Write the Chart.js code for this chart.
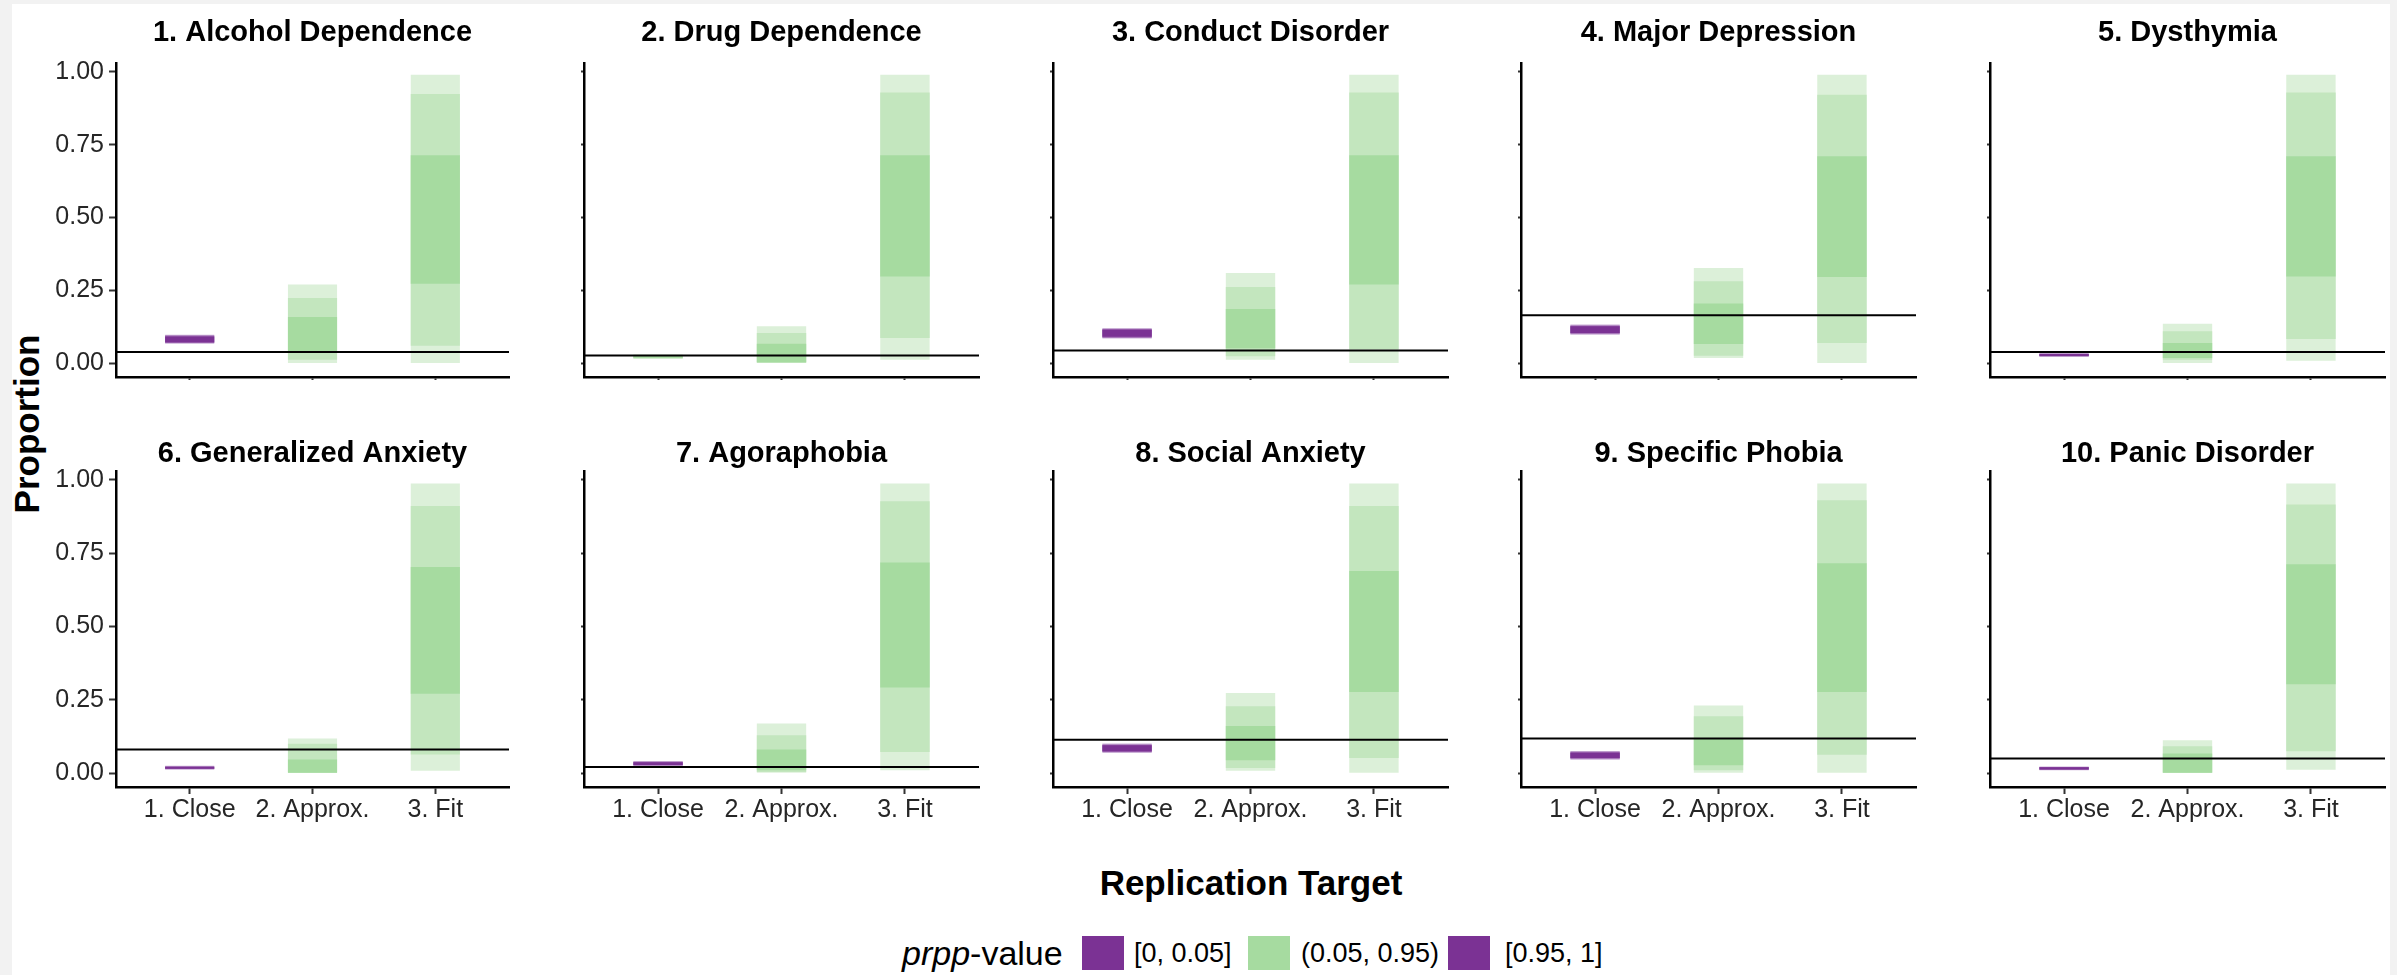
<!DOCTYPE html>
<html>
<head>
<meta charset="utf-8">
<script src="https://cdn.jsdelivr.net/npm/chart.js@4.4.1/dist/chart.umd.min.js"></script>
<style>
  html, body { margin: 0; padding: 0; background: #f2f2f2; }
  body { width: 2397px; height: 975px; position: relative; overflow: hidden; font-family: "Liberation Sans", Arial, sans-serif; }
  #sheet { position: absolute; left: 12px; top: 4px; width: 2378px; height: 971px; background: #ffffff; }
  canvas.panel { position: absolute; }
  .axis-title { position: absolute; font-weight: bold; font-size: 35px; line-height: 1; color: #000; white-space: nowrap; transform: translate(-50%, -50%); }
  #ytitle { transform: translate(-50%, -50%) rotate(-90deg); }
  #legend { position: absolute; left: 0; top: 932px; width: 2397px; height: 42px; }
  #legend > * { position: absolute; top: 0; height: 42px; line-height: 42px; white-space: nowrap; color: #000; }
  #legend .ltitle { font-size: 34px; }
  #legend .llabel { font-size: 27px; }
  #legend .lkey { top: 4px; width: 42px; height: 34px; }
</style>
</head>
<body>
<div id="sheet"></div>
<div id="ytitle" class="axis-title" style="left:26px; top:424px;">Proportion</div>
<div id="xtitle" class="axis-title" style="left:1251px; top:882px;">Replication Target</div>
<div id="legend"></div>

<script>
// ---- data -------------------------------------------------------------
const panelTitles = [
  '1. Alcohol Dependence', '2. Drug Dependence', '3. Conduct Disorder',
  '4. Major Depression', '5. Dysthymia', '6. Generalized Anxiety',
  '7. Agoraphobia', '8. Social Anxiety', '9. Specific Phobia', '10. Panic Disorder'
];
const targets = ['1. Close', '2. Approx.', '3. Fit'];
const yTickValues = [0, 0.25, 0.5, 0.75, 1];

// observed proportion in the replication sample (horizontal reference line)
const observed = [0.039, 0.027, 0.044, 0.165, 0.039, 0.081, 0.021, 0.114, 0.118, 0.050];

// prpp class of the close-replication interval: 'tail' = [0,0.05] or [0.95,1]
const closePrpp = ['tail', 'middle', 'tail', 'tail', 'tail', 'tail', 'tail', 'tail', 'tail', 'tail'];

// posterior predictive intervals [low, high]: outer, middle and inner bands
const closeOuter = [[0.067,0.098],[0.015,0.030],[0.085,0.121],[0.098,0.133],[0.022,0.035],[0.012,0.025],[0.023,0.042],[0.069,0.101],[0.046,0.076],[0.010,0.023]];
const closeMid   = [[0.070,0.095],[0.017,0.028],[0.088,0.118],[0.101,0.130],[0.024,0.033],[0.014,0.023],[0.026,0.039],[0.072,0.098],[0.049,0.073],[0.012,0.021]];
const closeInner = [[0.072,0.092],[0.019,0.026],[0.091,0.115],[0.104,0.127],[0.025,0.032],[0.015,0.022],[0.028,0.037],[0.075,0.095],[0.052,0.070],[0.013,0.020]];

const approxOuter = [[0.001,0.270],[0.000,0.127],[0.012,0.310],[0.018,0.327],[0.001,0.136],[0.000,0.118],[0.000,0.169],[0.008,0.273],[0.000,0.231],[0.000,0.112]];
const approxMid   = [[0.012,0.224],[0.003,0.104],[0.024,0.262],[0.026,0.281],[0.012,0.110],[0.000,0.100],[0.004,0.129],[0.018,0.228],[0.010,0.194],[0.000,0.092]];
const approxInner = [[0.035,0.159],[0.003,0.067],[0.052,0.186],[0.066,0.205],[0.018,0.070],[0.000,0.047],[0.010,0.081],[0.044,0.161],[0.027,0.118],[0.000,0.067]];

const fitOuter = [[0.001,0.990],[0.012,0.990],[0.001,0.990],[0.001,0.990],[0.009,0.990],[0.008,0.987],[0.010,0.987],[0.000,0.987],[0.000,0.987],[0.012,0.987]];
const fitMid   = [[0.060,0.924],[0.087,0.929],[0.049,0.929],[0.070,0.921],[0.083,0.929],[0.064,0.911],[0.072,0.927],[0.052,0.911],[0.063,0.930],[0.075,0.916]];
const fitInner = [[0.273,0.714],[0.298,0.714],[0.270,0.714],[0.296,0.710],[0.298,0.710],[0.271,0.703],[0.292,0.718],[0.277,0.689],[0.277,0.716],[0.303,0.712]];

const legendLabels = ['[0, 0.05]', '(0.05, 0.95)', '[0.95, 1]'];

// ---- styling ----------------------------------------------------------
const FONT = '"Liberation Sans", Arial, sans-serif';
const TICK_COLOR = '#262626';
const shades = {
  tail:   { inner: '#7b3294', mid: '#9d66b1', outer: '#cbb0d7' },
  middle: { inner: '#a6dba0', mid: '#c3e6be', outer: '#dcf0d9' }
};

// panel geometry (page pixels)
const colLeft  = [116, 584, 1053, 1521, 1990];
const colWidth = [393, 395, 395, 395, 395];
const rowTop    = [63, 471];
const rowHeight = [314, 316];
const titleGap  = [22, 9];
const AXIS_W = 106, TOP_PAD = 62, AXIS_H = 50, RIGHT_PAD = 6;

const panelTitlePlugin = {
  id: 'panelTitle',
  afterDraw(chart, args, opts) {
    const { ctx, chartArea } = chart;
    ctx.save();
    ctx.font = 'bold 29px ' + FONT;
    ctx.fillStyle = '#000';
    ctx.textAlign = 'center';
    ctx.textBaseline = 'alphabetic';
    ctx.fillText(opts.text, (chartArea.left + chartArea.right) / 2, chartArea.top - opts.gap);
    ctx.restore();
  }
};

function bandSet(i) {
  return [
    { outer: closeOuter[i],  mid: closeMid[i],  inner: closeInner[i],  tone: closePrpp[i] },
    { outer: approxOuter[i], mid: approxMid[i], inner: approxInner[i], tone: 'middle' },
    { outer: fitOuter[i],    mid: fitMid[i],    inner: fitInner[i],    tone: 'middle' }
  ];
}

function makePanel(i) {
  const row = Math.floor(i / 5), col = i % 5;
  const canvas = document.createElement('canvas');
  canvas.className = 'panel';
  const w = AXIS_W + colWidth[col] + RIGHT_PAD;
  const h = TOP_PAD + rowHeight[row] + AXIS_H;
  canvas.width = w; canvas.height = h;
  canvas.style.left = (colLeft[col] - AXIS_W) + 'px';
  canvas.style.top = (rowTop[row] - TOP_PAD) + 'px';
  canvas.style.width = w + 'px'; canvas.style.height = h + 'px';
  document.body.appendChild(canvas);

  const bands = bandSet(i);
  const layers = ['inner', 'mid', 'outer'];
  const datasets = layers.map((layer, k) => ({
    type: 'bar',
    label: layer,
    order: k,
    grouped: false,
    barPercentage: 0.4,
    categoryPercentage: 1,
    borderWidth: 0,
    borderSkipped: false,
    data: bands.map((b, j) => ({ x: j + 1, y: b[layer] })),
    backgroundColor: bands.map(b => shades[b.tone][layer])
  }));
  datasets.push({
    type: 'line',
    label: 'observed',
    order: -1,
    data: [{ x: 0.4, y: observed[i] }, { x: 3.6, y: observed[i] }],
    borderColor: '#000',
    borderWidth: 2,
    pointRadius: 0,
    fill: false
  });

  new Chart(canvas, {
    type: 'bar',
    data: { datasets },
    plugins: [panelTitlePlugin],
    options: {
      responsive: false,
      animation: false,
      devicePixelRatio: 1,
      layout: { padding: { top: TOP_PAD, right: RIGHT_PAD, left: 0, bottom: 0 } },
      plugins: {
        legend: { display: false },
        tooltip: { enabled: false },
        panelTitle: { text: panelTitles[i], gap: titleGap[row] }
      },
      scales: {
        x: {
          type: 'linear',
          min: 0.4, max: 3.6,
          offset: false,
          afterFit: s => { s.height = AXIS_H; },
          afterBuildTicks: s => { s.ticks = targets.map((t, j) => ({ value: j + 1 })); },
          border: { display: true, color: '#000', width: 2.5 },
          grid: { display: true, offset: false, drawOnChartArea: false, drawTicks: true,
                  tickLength: row === 1 ? 7 : 3, tickColor: '#333', tickWidth: 2 },
          ticks: {
            autoSkip: false, maxRotation: 0, padding: 1,
            color: TICK_COLOR, font: { family: FONT, size: 25 },
            callback: v => (row === 1 ? targets[Math.round(v) - 1] : '')
          }
        },
        y: {
          type: 'linear',
          min: -0.047, max: 1.03,
          afterFit: s => { s.width = AXIS_W; },
          afterBuildTicks: s => { s.ticks = yTickValues.map(v => ({ value: v })); },
          border: { display: true, color: '#000', width: 2.5 },
          grid: { display: true, drawOnChartArea: false, drawTicks: true,
                  tickLength: col === 0 ? 7 : 3, tickColor: '#333', tickWidth: 2 },
          ticks: {
            padding: 5, color: TICK_COLOR, font: { family: FONT, size: 25 },
            callback: v => (col === 0 ? v.toFixed(2) : '')
          }
        }
      }
    }
  });
}

for (let i = 0; i < panelTitles.length; i++) makePanel(i);

// ---- shared legend ------------------------------------------------------
(function buildLegend() {
  const legend = document.getElementById('legend');
  const title = document.createElement('span');
  title.className = 'ltitle';
  title.style.left = '902px';
  title.innerHTML = '<i>prpp</i>-value';
  legend.appendChild(title);
  const keyX = [1082, 1248, 1448];
  const labelX = [1134, 1301, 1505];
  const keyColors = [shades.tail.inner, shades.middle.inner, shades.tail.inner];
  legendLabels.forEach((lab, k) => {
    const key = document.createElement('span');
    key.className = 'lkey';
    key.style.left = keyX[k] + 'px';
    key.style.background = keyColors[k];
    legend.appendChild(key);
    const text = document.createElement('span');
    text.className = 'llabel';
    text.style.left = labelX[k] + 'px';
    text.textContent = lab;
    legend.appendChild(text);
  });
})();
</script>
</body>
</html>
